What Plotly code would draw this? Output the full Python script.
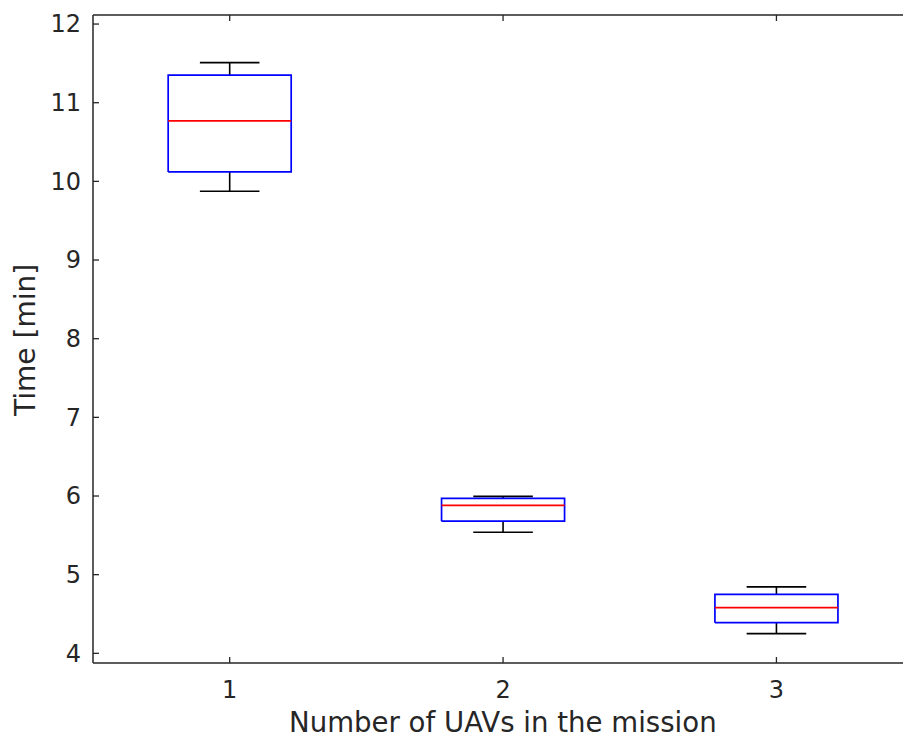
import plotly.graph_objects as go

# Mission duration statistics per number of UAVs (minutes)
uav_counts = [1, 2, 3]
whisker_low = [9.875, 5.54, 4.25]
q1 = [10.12, 5.68, 4.39]
median = [10.77, 5.88, 4.58]
q3 = [11.35, 5.97, 4.75]
whisker_high = [11.51, 5.995, 4.845]

tick_vals_y = [4, 5, 6, 7, 8, 9, 10, 11, 12]

BOX_HALF = 0.225    # half box width in x units
CAP_HALF = 0.109    # half whisker-cap width in x units
AX_COLOR = "#262626"
FONT = "DejaVu Sans"
X_RANGE = [0.5, 3.463]
Y_RANGE = [3.877, 12.115]
TICK_LEN = 6        # inward tick length, px
FRAME_W = 1.5

box_x, box_y = [], []
med_x, med_y = [], []
wh_x, wh_y = [], []
for xc, lo, a, m, b, hi in zip(uav_counts, whisker_low, q1, median, q3, whisker_high):
    box_x += [xc - BOX_HALF, xc + BOX_HALF, xc + BOX_HALF, xc - BOX_HALF, xc - BOX_HALF, None]
    box_y += [a, a, b, b, a, None]
    med_x += [xc - BOX_HALF, xc + BOX_HALF, None]
    med_y += [m, m, None]
    # whisker stems
    wh_x += [xc, xc, None, xc, xc, None]
    wh_y += [b, hi, None, a, lo, None]
    # whisker caps
    wh_x += [xc - CAP_HALF, xc + CAP_HALF, None, xc - CAP_HALF, xc + CAP_HALF, None]
    wh_y += [hi, hi, None, lo, lo, None]

fig = go.Figure()
fig.add_trace(go.Scatter(x=wh_x, y=wh_y, mode="lines",
                         line=dict(color="black", width=1.6), hoverinfo="skip"))
fig.add_trace(go.Scatter(x=box_x, y=box_y, mode="lines",
                         line=dict(color="#0000ff", width=1.7), hoverinfo="skip"))
fig.add_trace(go.Scatter(x=med_x, y=med_y, mode="lines",
                         line=dict(color="#ff0000", width=1.7), hoverinfo="skip"))

# frame: left, bottom and top edges (open on the right)
frame = dict(type="line", xref="paper", yref="paper",
             line=dict(color=AX_COLOR, width=FRAME_W))
shapes = [
    dict(frame, x0=0, x1=0, y0=0, y1=1),
    dict(frame, x0=0, x1=1, y0=0, y1=0),
    dict(frame, x0=0, x1=1, y0=1, y1=1),
]
tick_line = dict(color=AX_COLOR, width=1.3)
# inward x ticks on bottom and top edges
for v in uav_counts:
    shapes.append(dict(type="line", xref="x", yref="paper", ysizemode="pixel",
                       yanchor=0, x0=v, x1=v, y0=0, y1=TICK_LEN, line=tick_line))
    shapes.append(dict(type="line", xref="x", yref="paper", ysizemode="pixel",
                       yanchor=1, x0=v, x1=v, y0=0, y1=-TICK_LEN, line=tick_line))
# inward y ticks on the left edge
for v in tick_vals_y:
    shapes.append(dict(type="line", xref="paper", yref="y", xsizemode="pixel",
                       xanchor=0, x0=0, x1=TICK_LEN, y0=v, y1=v, line=tick_line))

fig.update_layout(
    width=903, height=738,
    margin=dict(l=93, r=0, t=15, b=75),
    paper_bgcolor="white", plot_bgcolor="white",
    showlegend=False,
    font=dict(family=FONT, size=24, color=AX_COLOR),
    xaxis=dict(
        range=X_RANGE,
        tickvals=uav_counts, ticktext=[str(v) for v in uav_counts],
        showline=False, ticks="", showgrid=False, zeroline=False,
        ticklabelstandoff=10,
        tickfont=dict(family=FONT, size=24, color=AX_COLOR),
    ),
    yaxis=dict(
        range=Y_RANGE,
        tickvals=tick_vals_y,
        showline=False, ticks="", showgrid=False, zeroline=False,
        ticklabelstandoff=11,
        tickfont=dict(family=FONT, size=24, color=AX_COLOR),
    ),
    shapes=shapes,
    annotations=[
        dict(text="Number of UAVs in the mission", x=2, y=0, xref="x", yref="paper",
             showarrow=False, font=dict(family=FONT, size=27.6, color=AX_COLOR),
             xanchor="center", yanchor="middle"),
        dict(text="Time [min]", x=0, y=0.497, xref="paper", yref="paper",
             showarrow=False, textangle=-90,
             font=dict(family=FONT, size=28, color=AX_COLOR),
             xanchor="center", yanchor="middle"),
    ],
)

# place axis titles in pixel terms relative to the plot area
plot_h = 738 - 15 - 75
plot_w = 903 - 93
fig.layout.annotations[0].y = -(722 - 663) / plot_h
fig.layout.annotations[1].x = -(93 - 26) / plot_w

fig.write_html("out.html")
